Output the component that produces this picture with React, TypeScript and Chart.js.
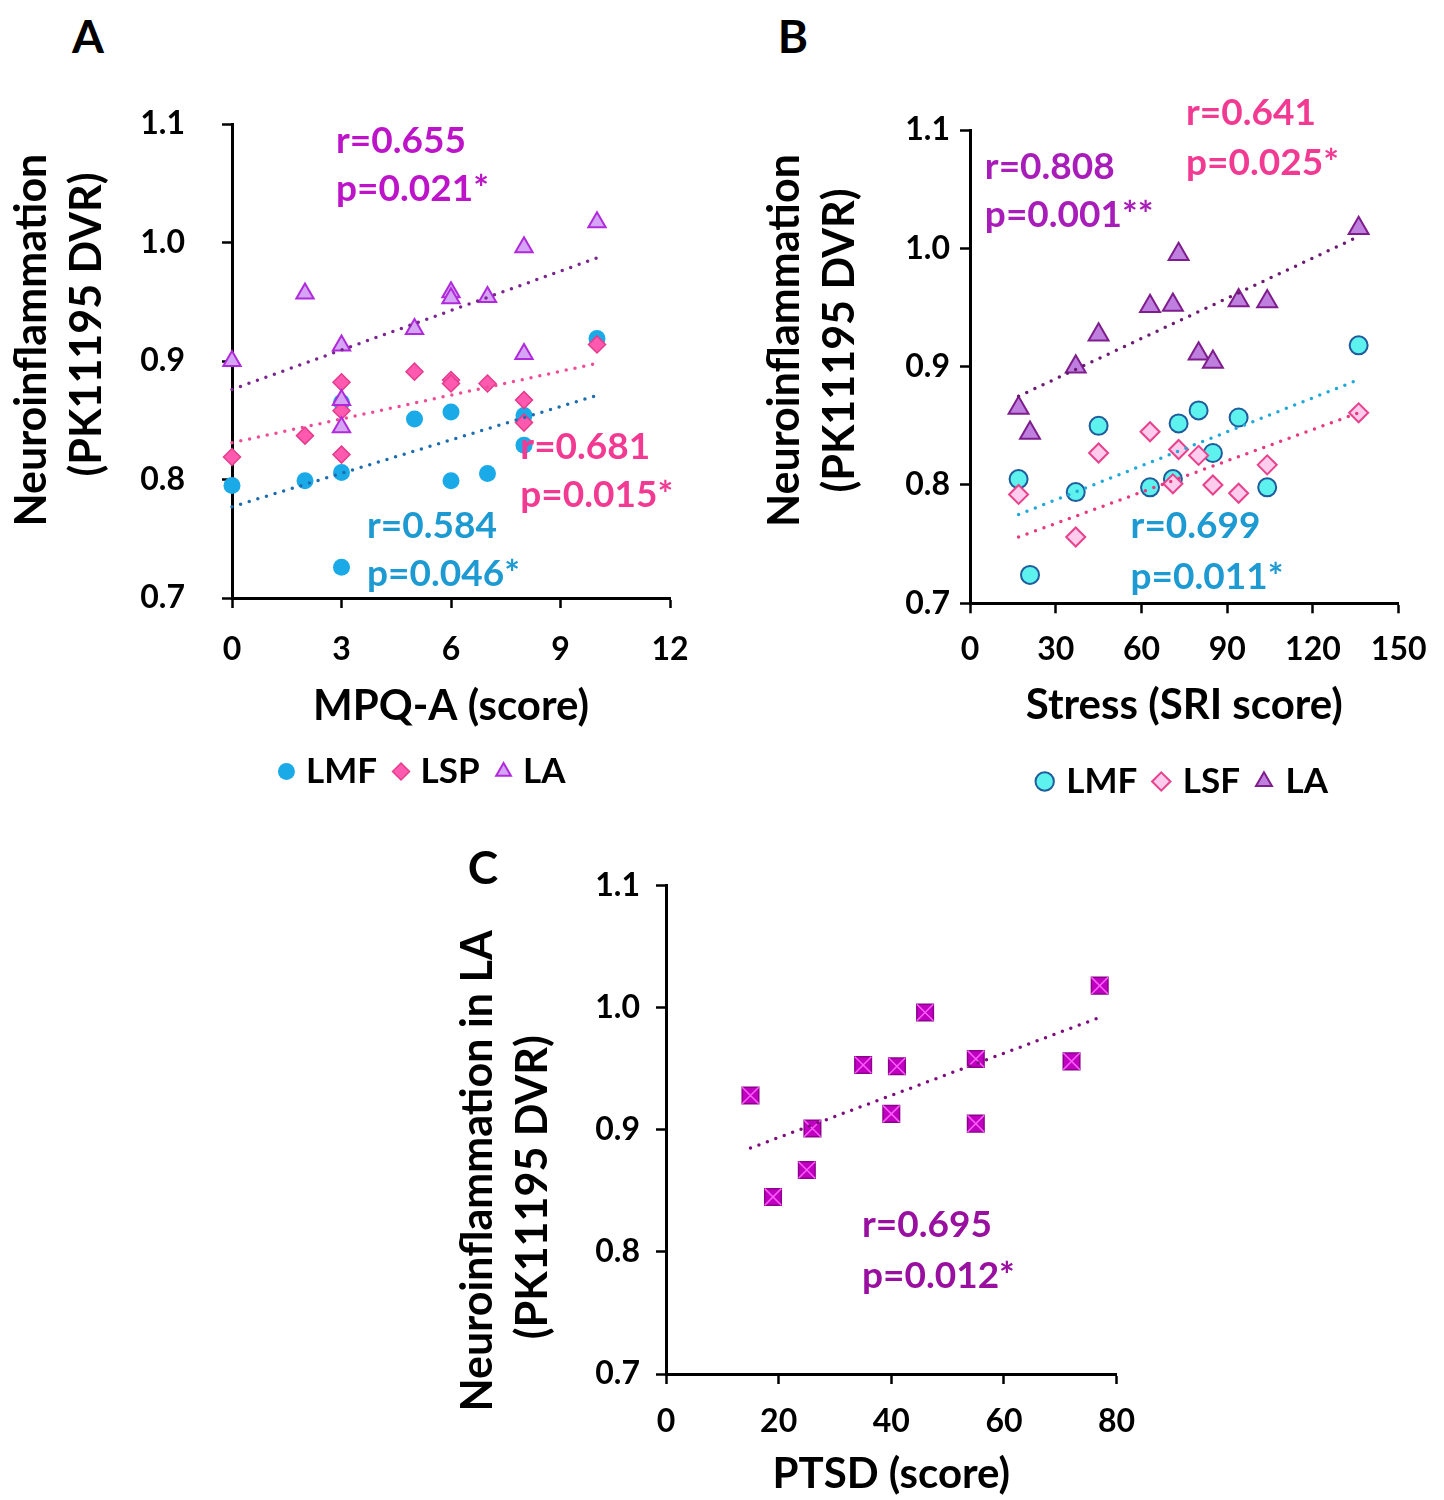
import React, { useEffect, useRef } from 'react';
import { Chart, registerables } from 'chart.js';
Chart.register(...registerables);

const FAMILY = 'Lato, "Open Sans", sans-serif';

// ---------- shared ----------
const yTickValues = [0.7, 0.8, 0.9, 1.0, 1.1];

// ---------- Panel A : MPQ-A ----------
const aX = [0, 2, 3, 3, 3, 5, 6, 6, 7, 8, 8, 10];
const aLmfY = [0.795, 0.799, 0.806, 0.865, 0.726, 0.851, 0.857, 0.799, 0.805, 0.854, 0.829, 0.919];
const aLspY = [0.819, 0.837, 0.882, 0.858, 0.821, 0.891, 0.884, 0.881, 0.881, 0.867, 0.848, 0.914];
const aLaY = [0.900, 0.957, 0.913, 0.867, 0.844, 0.927, 0.958, 0.953, 0.954, 0.906, 0.996, 1.017];
const aFitX = [0, 10];
const aLmfFit = [0.777, 0.871];
const aLspFit = [0.831, 0.898];
const aLaFit = [0.876, 0.987];
const aStats = [
  { x: 2.85, y: [1.086, 1.045], lines: ['r=0.655', 'p=0.021*'], color: '#BD14C9' },
  { x: 7.9, y: [0.827, 0.787], lines: ['r=0.681', 'p=0.015*'], color: '#F23A93' },
  { x: 3.7, y: [0.761, 0.72], lines: ['r=0.584', 'p=0.046*'], color: '#1D9AD2' },
];

// ---------- Panel B : SRI ----------
const bX = [17, 21, 37, 45, 63, 71, 73, 80, 85, 94, 104, 136];
const bLmfY = [0.805, 0.724, 0.794, 0.85, 0.798, 0.805, 0.852, 0.863, 0.827, 0.857, 0.798, 0.918];
const bLsfX = [17, 37, 45, 63, 71, 73, 80, 85, 94, 104, 136];
const bLsfY = [0.792, 0.756, 0.827, 0.845, 0.801, 0.83, 0.825, 0.8, 0.793, 0.817, 0.861];
const bLaY = [0.865, 0.844, 0.9, 0.927, 0.951, 0.952, 0.995, 0.911, 0.904, 0.956, 0.955, 1.017];
const bFitX = [17, 136];
const bLmfFit = [0.775, 0.889];
const bLsfFit = [0.756, 0.861];
const bLaFit = [0.875, 1.01];
const bStats = [
  { x: 75.6, y: [1.114, 1.072], lines: ['r=0.641', 'p=0.025*'], color: '#F23A93' },
  { x: 5.2, y: [1.069, 1.028], lines: ['r=0.808', 'p=0.001**'], color: '#A81DB9' },
  { x: 56.2, y: [0.765, 0.722], lines: ['r=0.699', 'p=0.011*'], color: '#1D9AD2' },
];

// ---------- Panel C : PTSD ----------
const cX = [15, 19, 25, 26, 35, 40, 41, 46, 55, 55, 72, 77];
const cY = [0.928, 0.845, 0.867, 0.901, 0.953, 0.913, 0.952, 0.996, 0.958, 0.905, 0.956, 1.018];
const cFitX = [15, 77];
const cFit = [0.885, 0.992];
const cStats = [
  { x: 34.8, y: [0.822, 0.78], lines: ['r=0.695', 'p=0.012*'], color: '#990FA0' },
];

const pts = (xs: number[], ys: number[]) => xs.map((x, i) => ({ x, y: ys[i] }));
const sp = (n: number) => '\u00A0'.repeat(n);

function statPlugin(items: { x: number; y: number[]; lines: string[]; color: string }[]) {
  return {
    id: 'statText',
    afterDraw(chart: any) {
      const { ctx } = chart;
      const xs = chart.scales.x;
      const ys = chart.scales.y;
      ctx.save();
      ctx.font = `bold 37px ${FAMILY}`;
      ctx.textAlign = 'left';
      ctx.textBaseline = 'middle';
      for (const it of items) {
        ctx.fillStyle = it.color;
        const px = xs.getPixelForValue(it.x);
        it.lines.forEach((t, i) => ctx.fillText(t, px, ys.getPixelForValue(it.y[i])));
      }
      ctx.restore();
    },
  };
}

// nudges the legend box horizontally after layout
function legendShift(dx: number) {
  return {
    id: 'legendShift',
    afterLayout(chart: any) {
      const lg = chart.legend;
      if (lg) {
        lg.left += dx;
        lg.right += dx;
      }
    },
  };
}

const tickFont = { family: FAMILY, size: 32, weight: 'bold' as const };

function xAxis(min: number, max: number, step: number, title: string, tickPad: number, height: number, titlePadBottom: number) {
  return {
    type: 'linear' as const,
    min,
    max,
    ticks: { stepSize: step, color: '#000', font: tickFont, padding: tickPad, maxRotation: 0, autoSkip: false },
    grid: { display: true, drawOnChartArea: false, drawTicks: true, tickLength: 10, tickWidth: 2.5, tickColor: '#000' },
    border: { display: true, color: '#000', width: 3 },
    title: {
      display: true,
      text: title,
      color: '#000',
      font: { family: FAMILY, size: 42, weight: 'bold' as const, lineHeight: 1.2 },
      padding: { top: 0, bottom: titlePadBottom },
    },
    afterFit: (s: any) => {
      s.height = height;
    },
  };
}

function yAxis(title: string[], tickPad: number, width: number, titlePadTop: number) {
  return {
    type: 'linear' as const,
    min: 0.7,
    max: 1.1,
    afterBuildTicks: (s: any) => {
      s.ticks = yTickValues.map((v) => ({ value: v }));
    },
    ticks: {
      color: '#000',
      font: tickFont,
      padding: tickPad,
      callback: (v: any) => Number(v).toFixed(1),
    },
    grid: { display: true, drawOnChartArea: false, drawTicks: true, tickLength: 10, tickWidth: 2.5, tickColor: '#000' },
    border: { display: true, color: '#000', width: 3 },
    title: {
      display: true,
      text: title,
      color: '#000',
      font: { family: FAMILY, size: 43, weight: 'bold' as const, lineHeight: 1.28 },
      padding: { top: titlePadTop, bottom: 0 },
    },
    afterFit: (s: any) => {
      s.width = width;
      s.paddingTop = 20;
      s.paddingBottom = 20;
    },
  };
}

function fitLine(label: string, xs: number[], ys: number[], color: string, order = 0) {
  return {
    label,
    data: pts(xs, ys),
    showLine: true,
    pointRadius: 0,
    borderColor: color,
    backgroundColor: color,
    borderWidth: 3.5,
    borderDash: [0, 9],
    borderCapStyle: 'round' as const,
    order,
    clip: false as const,
  };
}

function marker(label: string, xs: number[], ys: number[], style: string, r: number, fill: string, stroke: string, bw: number, order: number) {
  return {
    label,
    data: pts(xs, ys),
    pointStyle: style,
    pointRadius: r,
    pointBackgroundColor: fill,
    pointBorderColor: stroke,
    pointBorderWidth: bw,
    backgroundColor: fill,
    borderColor: stroke,
    borderWidth: bw,
    showLine: false,
    order,
    clip: false as const,
  };
}

function legendOpts(display: boolean, pad: number, boxW: number, boxH: number) {
  return {
    display,
    position: 'bottom' as const,
    fullSize: false,
    align: 'center' as const,
    labels: {
      usePointStyle: true,
      boxWidth: boxW,
      boxHeight: boxH,
      padding: pad,
      color: '#000',
      font: { family: FAMILY, size: 35, weight: 'bold' as const },
      filter: (item: any) => !String(item.text).endsWith('fit'),
      sort: (a: any, b: any) => a.datasetIndex - b.datasetIndex,
    },
  };
}

function configA(): any {
  return {
    type: 'scatter',
    data: {
      datasets: [
        marker('LMF', aX, aLmfY, 'circle', 8.5, '#1AAAE8', '#1AAAE8', 0, 3),
        marker('LSP', aX, aLspY, 'rectRot', 8.5, '#FF5AB0', '#E63C8C', 1.5, 2),
        marker('LA', aX, aLaY, 'triangle', 10, '#D6A4F4', '#B02ADC', 2, 1),
        fitLine('LMF fit', aFitX, aLmfFit, '#1E6DAE'),
        fitLine('LSP fit', aFitX, aLspFit, '#F04C96'),
        fitLine('LA fit', aFitX, aLaFit, '#7A2590'),
      ],
    },
    options: {
      responsive: false,
      animation: false,
      devicePixelRatio: 1,
      events: [],
      layout: { padding: { top: 34, right: 50, left: 0, bottom: 11 } },
      scales: {
        x: xAxis(0, 12, 3, 'MPQ-A (score)', 22, 134, 0),
        y: yAxis([sp(4) + 'Neuroinflammation', sp(7) + '(PK11195 DVR)'], 37, 232, 4.5),
      },
      plugins: { legend: legendOpts(true, 22, 4, 12), tooltip: { enabled: false } },
    },
    plugins: [statPlugin(aStats), legendShift(-26)],
  };
}

function configB(): any {
  return {
    type: 'scatter',
    data: {
      datasets: [
        marker('LMF', bX, bLmfY, 'circle', 9, '#5EF2EE', '#1F5C9C', 2, 3),
        marker('LSF', bLsfX, bLsfY, 'rectRot', 9.5, '#FFCCEE', '#E8428C', 2, 2),
        marker('LA', bX, bLaY, 'triangle', 11.5, '#BF7FDF', '#7E1E8C', 2, 1),
        fitLine('LMF fit', bFitX, bLmfFit, '#20A8D8'),
        fitLine('LSF fit', bFitX, bLsfFit, '#E8387E'),
        fitLine('LA fit', bFitX, bLaFit, '#6C1A72'),
      ],
    },
    options: {
      responsive: false,
      animation: false,
      devicePixelRatio: 1,
      events: [],
      layout: { padding: { top: 40, right: 41.3, left: 0, bottom: 11 } },
      scales: {
        x: xAxis(0, 150, 30, 'Stress (SRI score)', 17.5, 140.7, 13),
        y: yAxis([sp(5) + 'Neuroinflammation', sp(5) + '(PK11195 DVR)'], 10, 240, 27.5),
      },
      plugins: { legend: legendOpts(true, 20, 8, 13), tooltip: { enabled: false } },
    },
    plugins: [statPlugin(bStats)],
  };
}

function configC(): any {
  return {
    type: 'scatter',
    data: {
      datasets: [
        marker('LA', cX, cY, 'rect', 11.7, '#C000C0', '#8C008C', 1.5, 2),
        marker('LA cross fit', cX, cY, 'crossRot', 11.7, '#FF5CFF', '#FF5CFF', 1.5, 1),
        fitLine('LA trend fit', cFitX, cFit, '#7E0E80', 0),
      ],
    },
    options: {
      responsive: false,
      animation: false,
      devicePixelRatio: 1,
      events: [],
      layout: { padding: { top: 35.5, right: 43.4, left: 0, bottom: 0 } },
      scales: {
        x: xAxis(0, 80, 20, 'PTSD (score)', 18.8, 126, 0),
        y: yAxis(['Neuroinflammation in LA' + sp(8), '(PK11195 DVR)' + sp(11)], 16, 246, 30.5),
      },
      plugins: { legend: legendOpts(false, 20, 8, 12), tooltip: { enabled: false } },
    },
    plugins: [statPlugin(cStats)],
  };
}

function Panel({ left, top, width, height, make }: { left: number; top: number; width: number; height: number; make: () => any }) {
  const ref = useRef<HTMLCanvasElement | null>(null);
  useEffect(() => {
    if (!ref.current) return;
    const chart = new Chart(ref.current, make());
    let alive = true;
    if ((document as any).fonts && (document as any).fonts.ready) {
      (document as any).fonts.ready.then(() => {
        if (alive) chart.update();
      });
    }
    return () => {
      alive = false;
      chart.destroy();
    };
  }, []);
  return (
    <canvas
      ref={ref}
      width={width}
      height={height}
      style={{ position: 'absolute', left, top, width, height }}
    />
  );
}

const letterStyle = (left: number, top: number): React.CSSProperties => ({
  position: 'absolute',
  left,
  top,
  transform: 'translate(-50%, -50%)',
  fontFamily: FAMILY,
  fontWeight: 700,
  fontSize: 46,
  lineHeight: 1,
  color: '#000',
});

export default function App() {
  return (
    <div style={{ position: 'absolute', left: 0, top: 0, width: 1444, height: 1500, background: '#fff', overflow: 'hidden' }}>
      <Panel left={0} top={90} width={720} height={720} make={configA} />
      <Panel left={730} top={90} width={714} height={730} make={configB} />
      <Panel left={420} top={850} width={740} height={650} make={configC} />
      <div style={letterStyle(88, 36)}>A</div>
      <div style={letterStyle(793, 36)}>B</div>
      <div style={letterStyle(483, 867)}>C</div>
    </div>
  );
}
